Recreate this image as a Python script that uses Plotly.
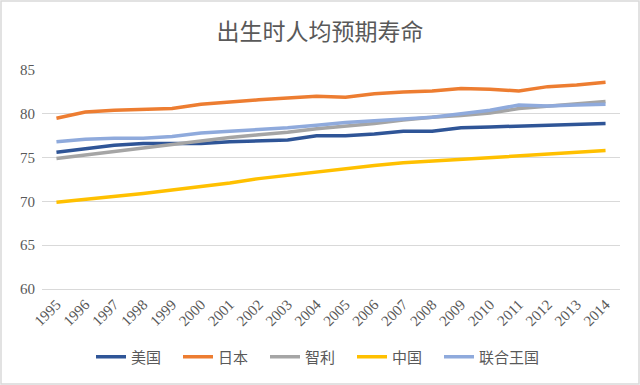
import plotly.graph_objects as go

years = [str(y) for y in range(1995, 2015)]
usa = [75.6, 76.0, 76.4, 76.6, 76.6, 76.6, 76.8, 76.9, 77.0, 77.5, 77.5, 77.7, 78.0, 78.0, 78.4, 78.5, 78.6, 78.7, 78.8, 78.9]
japan = [79.5, 80.2, 80.4, 80.5, 80.6, 81.1, 81.4, 81.6, 81.8, 82.0, 81.9, 82.3, 82.5, 82.6, 82.9, 82.8, 82.6, 83.1, 83.3, 83.6]
chile = [74.9, 75.3, 75.7, 76.1, 76.5, 76.9, 77.3, 77.6, 77.9, 78.3, 78.6, 78.9, 79.3, 79.6, 79.8, 80.1, 80.6, 80.9, 81.2, 81.4]
china = [69.9, 70.2, 70.5, 70.9, 71.3, 71.7, 72.1, 72.6, 73.0, 73.4, 73.8, 74.1, 74.4, 74.6, 74.8, 75.0, 75.2, 75.4, 75.6, 75.8]
uk = [76.8, 77.1, 77.2, 77.2, 77.4, 77.8, 78.0, 78.2, 78.4, 78.7, 79.0, 79.2, 79.4, 79.6, 80.0, 80.4, 81.0, 80.9, 81.0, 81.1]

series = [
    ("美国", usa, "#2F5597"),
    ("日本", japan, "#ED7D31"),
    ("智利", chile, "#A5A5A5"),
    ("中国", china, "#FFC000"),
    ("联合王国", uk, "#8FAADC"),
]

cjk = "Noto Sans CJK SC"
serif = "Liberation Serif, Times New Roman, serif"
grey = "#595959"

fig = go.Figure()
for name, vals, color in series:
    fig.add_trace(go.Scatter(x=years, y=vals, name=name, mode="lines",
                             line=dict(color=color, width=3.5)))
# invisible spacer entry so the last legend label is not clipped
fig.add_trace(go.Scatter(x=[years[0]], y=[None], name=" ", mode="lines",
                         line=dict(color="rgba(0,0,0,0)", width=0), hoverinfo="skip"))

W, H = 640, 385
ml, mr, mt, mb = 42, 20, 70, 96
pw, ph = W - ml - mr, H - mt - mb

fig.update_layout(
    width=W, height=H,
    margin=dict(l=ml, r=mr, t=mt, b=mb, autoexpand=False),
    paper_bgcolor="white", plot_bgcolor="white",
    title=dict(text="出生时人均预期寿命", x=0.5, xanchor="center", y=1 - 32 / H, yanchor="middle",
               font=dict(family=cjk, size=23, color=grey)),
    showlegend=True,
    legend=dict(orientation="h", x=(91 - ml) / pw, xanchor="left",
                y=(H - mb - 357) / ph, yanchor="middle",
                font=dict(family=cjk, size=15, color=grey),
                entrywidth=42, bgcolor="rgba(0,0,0,0)"),
    xaxis=dict(type="category", range=[-0.5, len(years) - 0.5], showgrid=False,
               showline=True, linecolor="#d9d9d9",
               ticks="", tickangle=-45, tickmode="array", tickvals=years, ticktext=years,
               tickfont=dict(family=serif, size=15, color=grey), fixedrange=True),
    yaxis=dict(range=[60, 85], dtick=5, showgrid=True, gridcolor="#d9d9d9", gridwidth=1,
               zeroline=False, showline=False, ticks="", ticklabelstandoff=6,
               tickfont=dict(family=serif, size=15, color=grey), fixedrange=True),
)

fig.add_shape(type="rect", xref="paper", yref="paper",
              x0=(1.0 - ml) / pw, x1=(W - 1.0 - ml) / pw,
              y0=(-(mb - 1.0)) / ph, y1=(ph + mt - 1.0) / ph,
              line=dict(color="#d9d9d9", width=1.5), fillcolor="rgba(0,0,0,0)")

fig.write_html("out.html", config={"displayModeBar": False},
               post_script="document.body.style.margin='0';")
